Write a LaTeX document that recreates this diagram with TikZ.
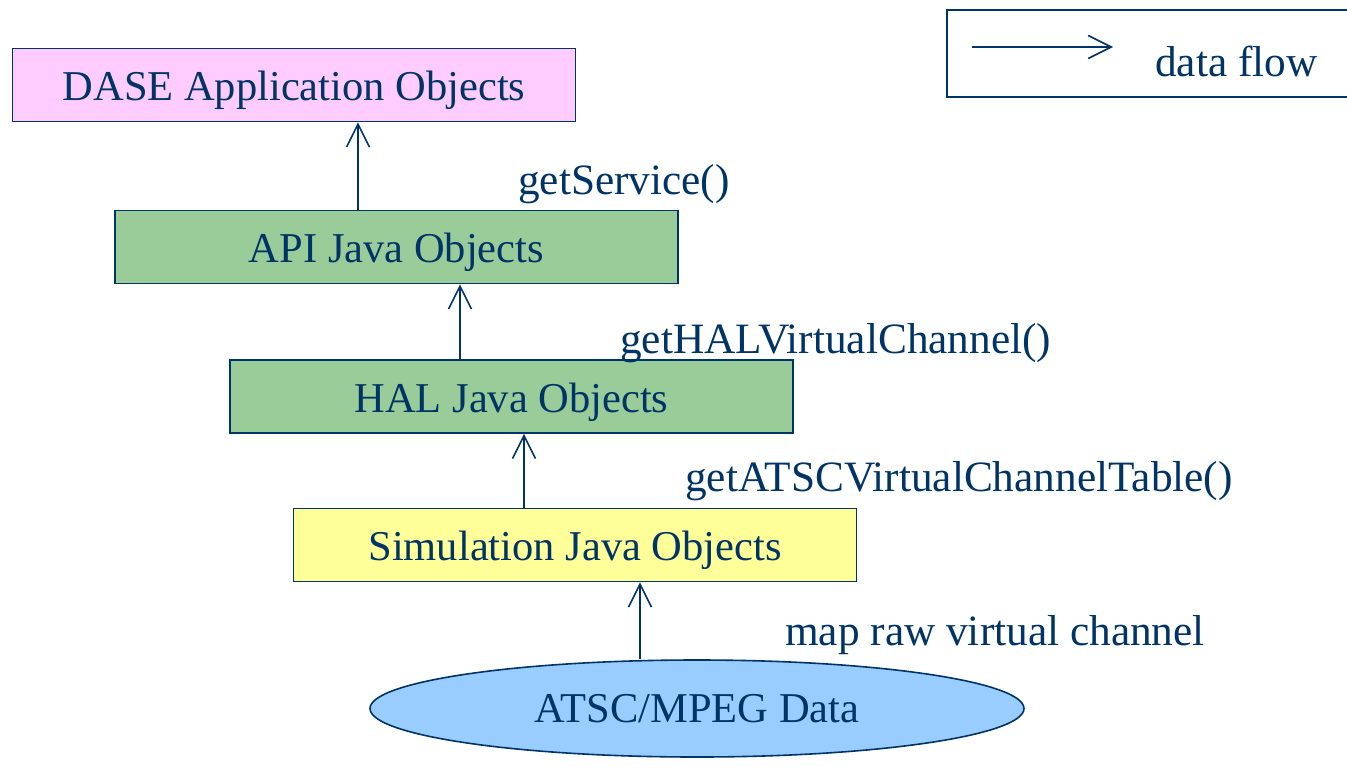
\documentclass[tikz,border=0pt]{standalone}
\usepackage{fontspec}
\setmainfont{Liberation Serif}
\usetikzlibrary{arrows.meta,shapes.geometric}
\definecolor{navy}{HTML}{003366}
\definecolor{pinkfill}{HTML}{FFCCFF}
\definecolor{greenfill}{HTML}{99CC99}
\definecolor{yellowfill}{HTML}{FFFF99}
\definecolor{bluefill}{HTML}{99CCFF}
\tikzset{
  layer/.style={draw=navy, line width=1.6pt, minimum width=563pt, minimum height=73pt, inner sep=0pt, text=navy, text height=31pt, text depth=0pt, font=\fontsize{42.5}{46}\selectfont},
  lbl/.style={anchor=base west, inner sep=0pt, text=navy, font=\fontsize{43.3}{47}\selectfont},
  flow/.style={draw=navy, line width=1.6pt, -{Straight Barb[length=23pt,width=23pt,line width=1.6pt]}},
}
\begin{document}
\begin{tikzpicture}[x=1pt,y=-1pt]
\useasboundingbox (0,0) rectangle (1347,769);
\node[layer, fill=pinkfill] (dase) at (294,85) {DASE Application Objects};
\node[layer, fill=greenfill] (api) at (396.5,247) {API Java Objects};
\node[layer, fill=greenfill] (hal) at (511.5,396.5) {HAL Java Objects};
\node[layer, fill=yellowfill] (sim) at (575,545) {Simulation Java Objects};
\node[ellipse, draw=navy, line width=1.6pt, fill=bluefill, minimum width=654pt, minimum height=97pt, inner sep=0pt, text=navy, font=\fontsize{42.5}{46}\selectfont] (atsc) at (697,708.5) {ATSC/MPEG Data};
\draw[flow] (atsc.north -| 640,0) -- (sim.south -| 640,0);
\draw[flow] (sim.north -| 524,0) -- (hal.south -| 524,0);
\draw[flow] (hal.north -| 460,0) -- (api.south -| 460,0);
\draw[flow] (api.north -| 358,0) -- (dase.south -| 358,0);
\node[lbl] (l1) at (518,194) {getService()};
\node[lbl] (l2) at (620,353) {getHALVirtualChannel()};
\node[lbl] (l3) at (685,491) {getATSCVirtualChannelTable()};
\node[lbl] (l4) at (785,645) {map raw virtual channel};
\node[draw=navy, line width=1.6pt, minimum width=420pt, minimum height=87pt, inner sep=0pt] (legend) at (1157,53.5) {};
\coordinate (la) at (972,47);
\coordinate (lb) at (1113,47);
\draw[flow] (la) -- (lb);
\node[lbl] (lt) at (1155,76) {data flow};
\end{tikzpicture}
\end{document}
